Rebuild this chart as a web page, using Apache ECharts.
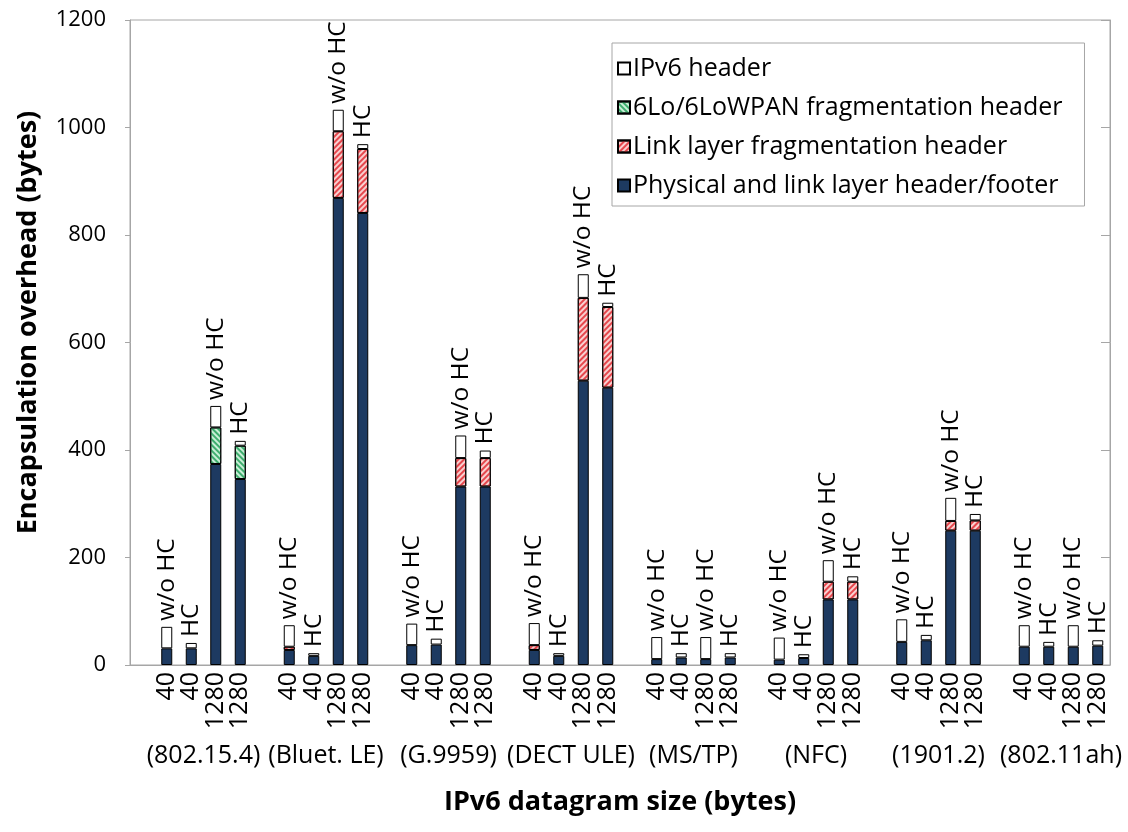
<!DOCTYPE html>
<html>
<head>
<meta charset="utf-8">
<script src="https://cdn.jsdelivr.net/npm/echarts@6/dist/echarts.min.js"></script>
<style>
html,body{margin:0;padding:0;background:#fff;}
#chart{width:1128px;height:832px;}
</style>
</head>
<body>
<div id="chart"></div>
<script>
// ---- data ----
var groups = ['(802.15.4)', '(Bluet. LE)', '(G.9959)', '(DECT ULE)', '(MS/TP)', '(NFC)', '(1901.2)', '(802.11ah)'];
var sizeLabels = ['40', '40', '1280', '1280'];
var hcLabels = ['w/o HC', 'HC', 'w/o HC', 'HC'];
var seriesNames = ['IPv6 header', '6Lo/6LoWPAN fragmentation header', 'Link layer fragmentation header', 'Physical and link layer header/footer'];
var yTicks = [0, 200, 400, 600, 800, 1000, 1200];

var physLink = [
  31, 31, 374, 346,
  28, 17, 869, 841,
  37, 38, 332, 332,
  28, 17, 529, 516,
  11, 14, 11, 14,
  10, 13, 122, 122,
  43, 46, 250, 250,
  34, 34, 34, 36
];
var linkFrag = [
  0, 0, 0, 0,
  6, 0, 124, 119,
  0, 0, 53, 53,
  9, 0, 154, 150,
  0, 0, 0, 0,
  0, 0, 33, 33,
  0, 0, 18, 19,
  0, 0, 0, 0
];
var loFrag = [
  0, 0, 68, 62,
  0, 0, 0, 0,
  0, 0, 0, 0,
  0, 0, 0, 0,
  0, 0, 0, 0,
  0, 0, 0, 0,
  0, 0, 0, 0,
  0, 0, 0, 0
];
var ipv6 = [
  40, 10, 40, 9,
  40, 5, 40, 9,
  40, 11, 42, 14,
  41, 5, 44, 8,
  41, 8, 41, 8,
  41, 7, 40, 10,
  42, 10, 43, 12,
  40, 9, 40, 10
];

// ---- build slot layout: one empty slot before and between groups ----
var slotLabels = [''];
var slotIndex = [-1];
groups.forEach(function (g, gi) {
  if (gi > 0) { slotLabels.push(''); slotIndex.push(-1); }
  for (var k = 0; k < 4; k++) {
    slotLabels.push(sizeLabels[k]);
    slotIndex.push(gi * 4 + k);
  }
});
function toSlots(arr) {
  return slotIndex.map(function (i) {
    if (i < 0) return '-';
    return arr[i] === 0 ? '-' : arr[i];
  });
}
// group-name axis: boundary points 0..40, group centres at 3, 8, ..., 38
var groupAxis = [];
for (var j = 0; j <= slotLabels.length; j++) {
  var gi = (j - 3) / 5;
  groupAxis.push(gi >= 0 && gi === Math.floor(gi) && gi < groups.length ? groups[gi] : ' ' + j);
}

var FONT = "'Open Sans', 'Noto Sans', sans-serif";
var chart = echarts.init(document.getElementById('chart'), null, {renderer: 'canvas'});

var barBase = {
  type: 'bar',
  stack: 'total',
  barWidth: 11,
  xAxisIndex: 0,
  yAxisIndex: 0
};

var option = {
  backgroundColor: '#ffffff',
  animation: false,
  textStyle: {fontFamily: FONT, color: '#000'},
  grid: {left: 130, right: 18, top: 20, bottom: 167, show: true, borderColor: '#a6a6a6', borderWidth: 1, containLabel: false},
  legend: {
    data: seriesNames.map(function (n) { return {name: n, icon: 'rect'}; }),
    orient: 'vertical',
    left: 612,
    top: 43,
    padding: [13, 22, 8, 5],
    itemWidth: 12,
    itemHeight: 12,
    itemGap: 14,
    borderColor: '#a6a6a6',
    borderWidth: 1,
    selectedMode: false,
    textStyle: {fontFamily: FONT, fontSize: 25, color: '#000', lineHeight: 25, padding: [0, 0, 0, -2]}
  },
  xAxis: [
    {
      type: 'category',
      data: slotLabels,
      boundaryGap: true,
      axisLine: {show: true, lineStyle: {color: '#a6a6a6', width: 1}},
      axisTick: {show: false},
      axisLabel: {interval: 0, rotate: 90, fontSize: 25, fontFamily: FONT, color: '#000', margin: 7},
      name: 'IPv6 datagram size (bytes)',
      nameLocation: 'middle',
      nameGap: 124,
      nameTextStyle: {fontFamily: FONT, fontSize: 27, fontWeight: 'bold', color: '#000'}
    },
    {
      type: 'category',
      data: groupAxis,
      boundaryGap: false,
      position: 'bottom',
      offset: 74,
      axisLine: {show: false},
      axisTick: {show: false},
      axisLabel: {
        interval: 0, fontSize: 25, fontFamily: FONT, color: '#000', margin: 4,
        formatter: function (v) { return v.charAt(0) === ' ' ? '' : v; }
      }
    }
  ],
  yAxis: [
    {
      type: 'value',
      min: yTicks[0],
      max: yTicks[yTicks.length - 1],
      interval: yTicks[1] - yTicks[0],
      axisLine: {show: true, lineStyle: {color: '#a6a6a6', width: 1}},
      axisTick: {show: true, inside: false, length: 5, lineStyle: {color: '#a6a6a6'}},
      splitLine: {show: false},
      axisLabel: {fontSize: 22, fontFamily: FONT, color: '#000', margin: 24, formatter: function (v) { return String(v); }},
      name: 'Encapsulation overhead (bytes)',
      nameLocation: 'middle',
      nameGap: 88,
      nameTextStyle: {fontFamily: FONT, fontSize: 27, fontWeight: 'bold', color: '#000', padding: [0, 0, 0, 40]}
    },
    {
      type: 'value',
      position: 'right',
      min: yTicks[0],
      max: yTicks[yTicks.length - 1],
      interval: yTicks[1] - yTicks[0],
      axisLine: {show: true, lineStyle: {color: '#a6a6a6', width: 1}},
      axisTick: {show: true, inside: true, length: 9, lineStyle: {color: '#a6a6a6'}},
      splitLine: {show: false},
      axisLabel: {show: false}
    }
  ],
  series: [
    Object.assign({}, barBase, {
      name: seriesNames[3],
      data: toSlots(physLink),
      itemStyle: {color: '#1d3a61', borderColor: '#000', borderWidth: 1}
    }),
    Object.assign({}, barBase, {
      name: seriesNames[2],
      data: toSlots(linkFrag),
      itemStyle: {
        color: '#f9cfcf', borderColor: '#000', borderWidth: 1,
        decal: {symbol: 'rect', symbolSize: 1, dashArrayX: [1, 0], dashArrayY: [2, 2], rotation: -Math.PI / 4, color: '#e5474d'}
      }
    }),
    Object.assign({}, barBase, {
      name: seriesNames[1],
      data: toSlots(loFrag),
      itemStyle: {
        color: '#c9efd6', borderColor: '#000', borderWidth: 1,
        decal: {symbol: 'rect', symbolSize: 1, dashArrayX: [1, 0], dashArrayY: [2, 2], rotation: Math.PI / 4, color: '#3fae6f'}
      }
    }),
    Object.assign({}, barBase, {
      name: seriesNames[0],
      data: toSlots(ipv6),
      itemStyle: {color: '#ffffff', borderColor: '#000', borderWidth: 1},
      label: {
        show: true,
        position: 'top',
        rotate: 90,
        align: 'left',
        verticalAlign: 'middle',
        distance: 6,
        fontFamily: FONT,
        fontSize: 24.5,
        color: '#000',
        formatter: function (p) {
          var i = slotIndex[p.dataIndex];
          return i < 0 ? '' : hcLabels[i % 4];
        }
      }
    })
  ]
};
chart.setOption(option);
</script>
</body>
</html>
